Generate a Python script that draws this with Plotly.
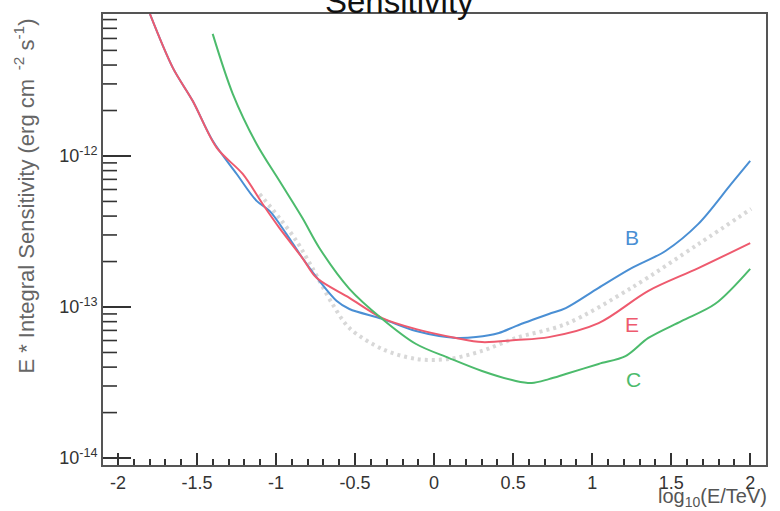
import math
import plotly.graph_objects as go

# ---- data ----
x_B = [-1.798, -1.653, -1.527, -1.401, -1.249, -1.123, -1.041, -0.934, -0.833, -0.726, -0.618, -0.536,
       -0.328, -0.114, 0.139, 0.265, 0.410, 0.517, 0.726, 0.833, 1.041, 1.249, 1.464, 1.672, 1.880, 2.000]
y_B = [8.71e-12, 3.83e-12, 2.31e-12, 1.26e-12, 7.60e-13, 5.04e-13, 4.33e-13, 3.04e-13, 2.11e-13, 1.49e-13,
       1.10e-13, 9.7e-14, 8.34e-14, 6.93e-14, 6.24e-14, 6.32e-14, 6.73e-14, 7.48e-14, 8.99e-14, 9.84e-14,
       1.34e-13, 1.81e-13, 2.35e-13, 3.55e-13, 6.53e-13, 9.27e-13]

x_E = [-1.798, -1.653, -1.527, -1.375, -1.211, -1.085, -0.978, -0.833, -0.744, -0.536, -0.328, -0.114,
       0.139, 0.303, 0.517, 0.726, 1.041, 1.356, 1.672, 2.000]
y_E = [8.71e-12, 3.83e-12, 2.31e-12, 1.13e-12, 7.60e-13, 4.81e-13, 3.33e-13, 2.11e-13, 1.56e-13, 1.15e-13,
       8.45e-14, 7.14e-14, 6.24e-14, 5.86e-14, 6.04e-14, 6.32e-14, 7.83e-14, 1.28e-13, 1.81e-13, 2.65e-13]

x_C = [-1.401, -1.274, -1.123, -0.978, -0.833, -0.726, -0.536, -0.328, -0.114, 0.095, 0.303, 0.517,
       0.618, 0.726, 0.833, 1.041, 1.211, 1.356, 1.565, 1.779, 2.000]
y_C = [6.43e-12, 2.58e-12, 1.20e-12, 6.82e-13, 3.88e-13, 2.46e-13, 1.32e-13, 8.34e-14, 5.69e-14, 4.59e-14,
       3.77e-14, 3.24e-14, 3.14e-14, 3.33e-14, 3.60e-14, 4.20e-14, 4.73e-14, 6.24e-14, 8.07e-14, 1.05e-13,
       1.79e-13]

x_ref = [-1.104, -0.978, -0.871, -0.770, -0.644, -0.536, -0.328, -0.114, 0.095, 0.303, 0.517, 0.833,
         1.249, 1.672, 2.006]
y_ref = [5.60e-13, 3.88e-13, 2.74e-13, 1.81e-13, 1.05e-13, 7.26e-14, 5.27e-14, 4.53e-14, 4.53e-14, 5.12e-14,
         6.24e-14, 7.71e-14, 1.34e-13, 2.61e-13, 4.46e-13]

x_ticks = [-2, -1.5, -1, -0.5, 0, 0.5, 1, 1.5, 2]
x_ticktext = ["-2", "-1.5", "-1", "-0.5", "0", "0.5", "1", "1.5", "2"]
y_ticks = [1e-14, 1e-13, 1e-12]
y_ticktext = ["10<sup>-14</sup>", "10<sup>-13</sup>", "10<sup>-12</sup>"]

labels = ["B", "E", "C"]
label_x = [1.25, 1.25, 1.26]
label_y = [2.9e-13, 7.7e-14, 3.3e-14]

col_B = "#4a8fd4"
col_E = "#ee5a6e"
col_C = "#4cbb6c"
col_ref = "#d8d8d8"

FONT = "Liberation Sans, Arial, sans-serif"
X_RANGE = [-2.095, 2.10]
Y_RANGE = [-14.046, -11.06]
TICK_COL = "#333333"

fig = go.Figure()
fig.add_trace(go.Scatter(x=x_ref, y=y_ref, mode="lines",
                         line=dict(color=col_ref, width=4, dash="3px,4px", shape="spline", smoothing=0.9)))
fig.add_trace(go.Scatter(x=x_B, y=y_B, mode="lines",
                         line=dict(color=col_B, width=2, shape="spline", smoothing=0.9)))
fig.add_trace(go.Scatter(x=x_E, y=y_E, mode="lines",
                         line=dict(color=col_E, width=2, shape="spline", smoothing=0.9)))
fig.add_trace(go.Scatter(x=x_C, y=y_C, mode="lines",
                         line=dict(color=col_C, width=2, shape="spline", smoothing=0.9)))

# y-axis tick marks drawn as clipped horizontal line markers on the left frame edge
minor_y = [m * 10.0 ** e for e in (-14, -13, -12) for m in range(2, 10)]
fig.add_trace(go.Scatter(x=[X_RANGE[0]] * len(y_ticks), y=y_ticks, mode="markers", hoverinfo="skip",
                         cliponaxis=True,
                         marker=dict(symbol="line-ew", size=40, color=TICK_COL,
                                     line=dict(width=2, color=TICK_COL))))
fig.add_trace(go.Scatter(x=[X_RANGE[0]] * len(minor_y), y=minor_y, mode="markers", hoverinfo="skip",
                         cliponaxis=True,
                         marker=dict(symbol="line-ew", size=20, color=TICK_COL,
                                     line=dict(width=1.6, color=TICK_COL))))

minor_x = [round(-2.0 + 0.1 * i, 2) for i in range(-1, 42)]
minor_x = [v for v in minor_x if v not in x_ticks]

fig.update_layout(
    width=780, height=511,
    margin=dict(l=103, r=12, t=13, b=46),
    paper_bgcolor="white", plot_bgcolor="white",
    showlegend=False,
    font=dict(family=FONT, color="#333"),
    xaxis=dict(range=X_RANGE, tickvals=x_ticks, ticktext=x_ticktext,
               ticks="inside", ticklen=12, tickwidth=2, tickcolor=TICK_COL,
               showline=True, linecolor="#555", linewidth=2, mirror=True,
               showgrid=False, zeroline=False, tickfont=dict(size=18, color="#333"),
               minor=dict(tickmode="array", tickvals=minor_x, ticks="inside", ticklen=6,
                          tickwidth=1.6, tickcolor=TICK_COL, showgrid=False)),
    yaxis=dict(type="log", range=Y_RANGE, tickvals=y_ticks, ticktext=y_ticktext,
               ticks="inside", ticklen=20, tickwidth=2, tickcolor=TICK_COL,
               showline=True, linecolor="#555", linewidth=2, mirror=True,
               showgrid=False, zeroline=False, tickfont=dict(size=18, color="#333")),
)

annotations = [
    dict(text="Sensitivity", xref="paper", yref="paper", x=(396 - 103) / 656, y=1,
         xanchor="center", yanchor="bottom", yshift=-8, showarrow=False,
         font=dict(family=FONT, size=33, color="#111")),
    dict(text="E * Integral Sensitivity (erg cm<sup>  -2</sup> s<sup>-1</sup>)",
         xref="paper", yref="paper", x=0, xshift=-79, y=(465 - 196) / 452,
         xanchor="center", yanchor="middle", textangle=-90, showarrow=False,
         font=dict(family=FONT, size=22, color="#666")),
    dict(text="log<sub>10</sub>(E/TeV)", xref="paper", yref="paper", x=1, xshift=3,
         y=0, yshift=-32, xanchor="right", yanchor="middle", showarrow=False,
         font=dict(family=FONT, size=20, color="#555")),
]
colors = [col_B, col_E, col_C]
for t, lx, ly, c in zip(labels, label_x, label_y, colors):
    annotations.append(dict(text=t, x=lx, y=math.log10(ly), xref="x", yref="y",
                            showarrow=False, xanchor="center", yanchor="middle",
                            font=dict(family=FONT, size=21, color=c)))
fig.update_layout(annotations=annotations)

fig.write_html("out.html")
